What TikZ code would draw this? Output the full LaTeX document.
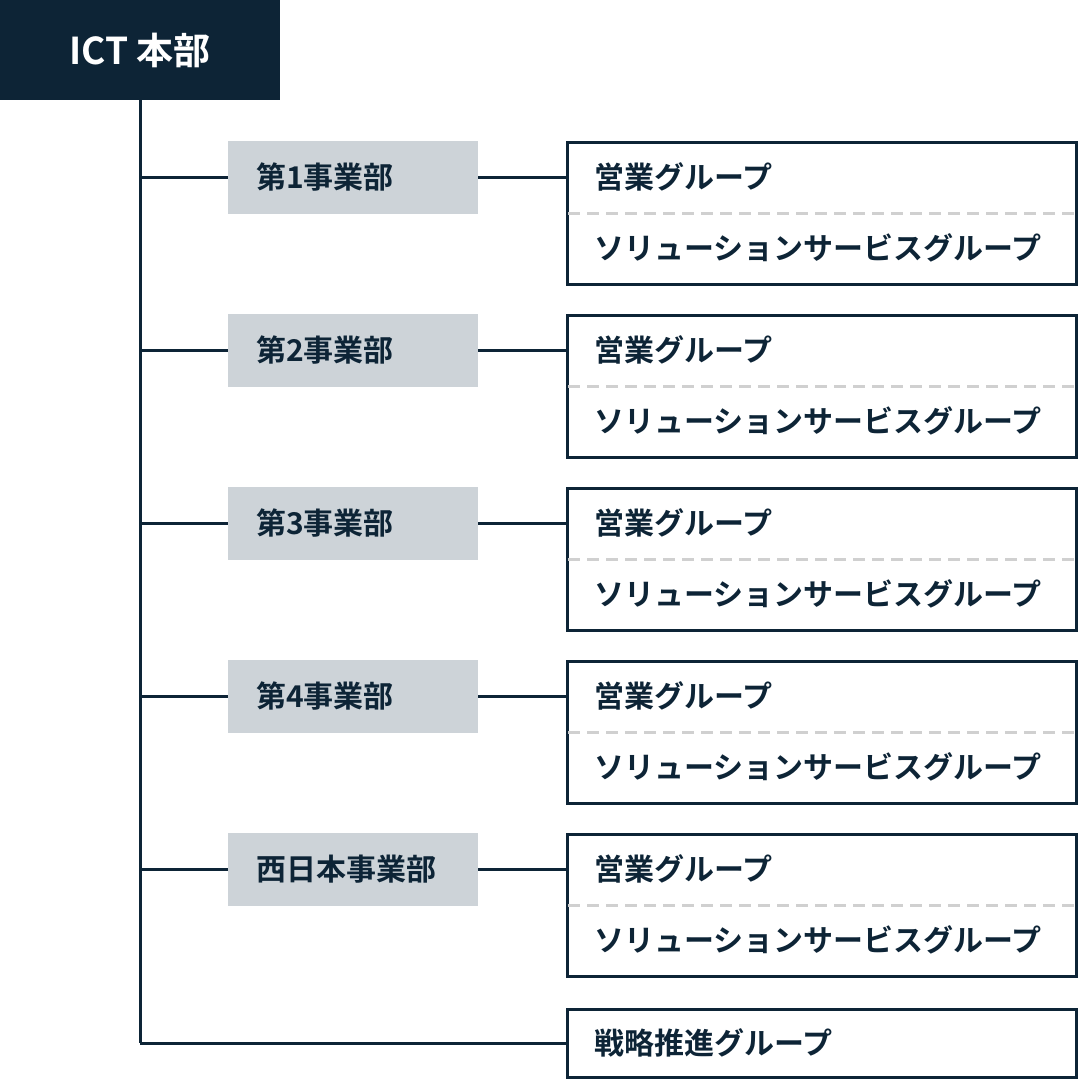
\documentclass[tikz,border=0pt]{standalone}
\usepackage{fontspec}
\newfontfamily\cjk{Noto Sans CJK JP}[BoldFont=* Bold]
\usetikzlibrary{positioning}
\definecolor{navy}{HTML}{0D2436}
\definecolor{paleGray}{HTML}{CDD3D8}
\definecolor{dashGray}{HTML}{D0D0D0}
\tikzset{
  top/.style={rectangle, fill=navy, text=white, minimum width=280pt, minimum height=100pt, font=\cjk\bfseries\fontsize{37}{40}\selectfont},
  dept/.style={rectangle, fill=paleGray, minimum width=250pt, minimum height=73pt},
  group/.style={rectangle, draw=navy, line width=3pt, minimum width=509pt, minimum height=142pt},
  single/.style={rectangle, draw=navy, line width=3pt, minimum width=509pt, minimum height=68pt},
  label/.style={anchor=west, inner sep=0pt, text=navy, font=\cjk\bfseries\fontsize{30}{32}\selectfont},
  link/.style={draw=navy, line width=3pt}
}
\begin{document}
\begin{tikzpicture}[x=1pt,y=-1pt]
\useasboundingbox (0,0) rectangle (1080,1080);

% Head
\node (ict) [top] at (140,50) {ICT 本部};
\coordinate (trunk) at (140,1043);
\draw [link] (ict.south) -- (trunk);

% Divisions
\foreach \name [count=\i] in {第1事業部,第2事業部,第3事業部,第4事業部,西日本事業部} {
  \pgfmathsetmacro{\yy}{177+173*(\i-1)}
  \coordinate (tap\i) at (140,\yy);
  \node (dept\i) [dept] at (353,\yy) {};
  \node [label] at (256,\yy) {\name};
  \node (grp\i) [group] at (822,\yy+36) {};
  \draw [link] (tap\i) -- (dept\i.west);
  \draw [link] (dept\i.east) -- (grp\i.west |- dept\i.east);
  \draw [dashGray, line width=3pt, dash pattern=on 12pt off 7pt] ([xshift=2pt]grp\i.west) -- ([xshift=-2pt]grp\i.east);
  \node [label] at (594,\yy) {営業グループ};
  \node [label] at (594,\yy+71) {ソリューションサービスグループ};
}

% Strategy
\node (strategy) [single] at (822,1043) {};
\node [label] at (594,1043) {戦略推進グループ};
\draw [link] (trunk) -- (strategy.west);
\end{tikzpicture}
\end{document}
